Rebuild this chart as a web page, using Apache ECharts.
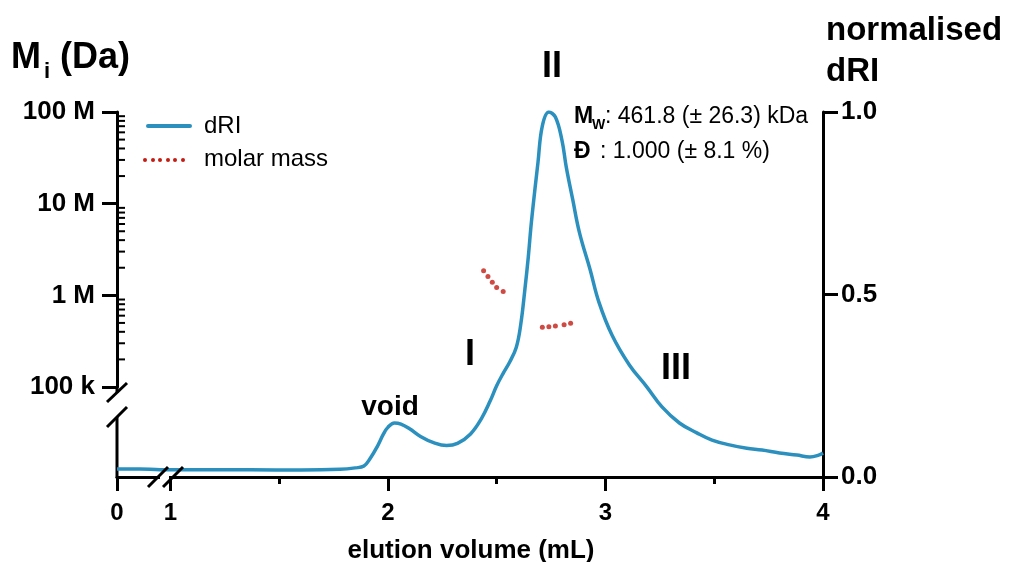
<!DOCTYPE html>
<html>
<head>
<meta charset="utf-8">
<script src="https://cdn.jsdelivr.net/npm/echarts@6/dist/echarts.min.js"></script>
<style>
  html, body { margin: 0; padding: 0; background: #fff; }
  #main { width: 1010px; height: 562px; }
</style>
</head>
<body>
<div id="main"></div>
<script>
// dRI trace (elution volume in mL, normalised dRI)
const volume = [0, 0.43, 0.81, 1.0, 1.14, 1.37, 1.6, 1.78, 1.85, 1.89, 1.92, 1.95, 1.98, 2.0, 2.03, 2.06, 2.1,
  2.15, 2.21, 2.27, 2.32, 2.38, 2.43, 2.47, 2.5, 2.53, 2.56, 2.59, 2.61, 2.63, 2.645, 2.66, 2.69, 2.71, 2.74, 2.77,
  2.8, 2.82, 2.85, 2.88, 2.93, 2.97, 3.03, 3.11, 3.19, 3.26, 3.34, 3.42, 3.49, 3.57, 3.65, 3.72, 3.8, 3.88,
  3.94, 3.98, 4.0];
const dri = [0.022, 0.022, 0.02, 0.02, 0.02, 0.02, 0.019, 0.021, 0.025, 0.03, 0.052, 0.082, 0.118, 0.136, 0.148,
  0.145, 0.132, 0.111, 0.094, 0.086, 0.092, 0.118, 0.16, 0.208, 0.25, 0.284, 0.315, 0.355, 0.415, 0.515, 0.6, 0.7,
  0.862, 0.962, 1.0, 0.986, 0.923, 0.849, 0.759, 0.671, 0.567, 0.479, 0.389, 0.307, 0.247, 0.192, 0.148, 0.121,
  0.101, 0.088, 0.079, 0.074, 0.066, 0.06, 0.055, 0.06, 0.066];

// molar mass points (Da)
const mmVolume = [2.44, 2.46, 2.48, 2.50, 2.53, 2.71, 2.74, 2.77, 2.81, 2.84];
const mmMass = [1.86e6, 1.60e6, 1.39e6, 1.22e6, 1.10e6, 4.48e5, 4.55e5, 4.63e5, 4.79e5, 4.96e5];

// axis ticks
const xTicks = [0, 1, 2, 3, 4];
const xMinorTicks = [1.5, 2.5, 3.5];
const driTicks = [0, 0.5, 1];
const massTicks = [1e5, 1e6, 1e7, 1e8];
const massLabels = ['100 k', '1 M', '10 M', '100 M'];
const massMinorTicks = [2e5, 3e5, 4e5, 5e5, 6e5, 7e5, 8e5, 9e5, 2e6, 3e6, 4e6, 5e6, 6e6, 7e6, 8e6, 9e6,
  2e7, 3e7, 4e7, 5e7, 6e7, 7e7, 8e7, 9e7];

// x axis break: 0..1 mL squeezed
const BREAK = 0.245;
const toAxis = v => (v <= 1 ? v * BREAK : BREAK + (v - 1));
const fromAxis = d => (d <= BREAK ? d / BREAK : d - BREAK + 1);
const X_MAX = toAxis(4);

const FONT = 'Liberation Sans, Arial, sans-serif';
const BLUE = '#2b90be';
const RED = '#c21d14';

const chart = echarts.init(document.getElementById('main'));

const axisLineStyle = { color: '#000', width: 3 };

const option = {
  animation: false,
  grid: [
    { left: 117, right: 187, top: 112, bottom: 85 },
    { left: 117, right: 187, top: 112, bottom: 175 }
  ],
  xAxis: [
    {
      type: 'value', gridIndex: 0, min: 0, max: X_MAX,
      axisLine: { onZero: false, lineStyle: axisLineStyle },
      axisTick: { show: true, length: 14, lineStyle: axisLineStyle, customValues: xTicks.map(toAxis) },
      axisLabel: {
        customValues: xTicks.map(toAxis),
        formatter: v => String(Math.round(fromAxis(v))),
        color: '#000', fontFamily: FONT, fontWeight: 'bold', fontSize: 24, margin: 24
      },
      splitLine: { show: false }
    },
    {
      type: 'value', gridIndex: 0, min: 0, max: X_MAX, position: 'bottom',
      axisLine: { show: false, onZero: false },
      axisTick: { show: true, length: 7, lineStyle: axisLineStyle, customValues: xMinorTicks.map(toAxis) },
      axisLabel: { show: false },
      splitLine: { show: false }
    },
    {
      type: 'value', gridIndex: 1, min: 0, max: X_MAX, show: false
    }
  ],
  yAxis: [
    {
      type: 'value', gridIndex: 0, position: 'right', min: 0, max: 1,
      axisLine: { show: true, onZero: false, lineStyle: axisLineStyle },
      axisTick: { show: true, length: 15, lineStyle: axisLineStyle, customValues: driTicks },
      axisLabel: {
        customValues: driTicks,
        formatter: v => v.toFixed(1),
        color: '#000', fontFamily: FONT, fontWeight: 'bold', fontSize: 26, margin: 18
      },
      splitLine: { show: false }
    },
    {
      type: 'log', logBase: 10, gridIndex: 1, position: 'left', min: 1e5, max: 1e8,
      axisLine: { show: true, onZero: false, lineStyle: axisLineStyle },
      axisTick: { show: true, length: 15, lineStyle: axisLineStyle, customValues: massTicks },
      axisLabel: {
        customValues: massTicks,
        formatter: v => {
          const i = massTicks.findIndex(t => Math.abs(Math.log10(t) - Math.log10(v)) < 1e-6);
          return i >= 0 ? massLabels[i] : '';
        },
        color: '#000', fontFamily: FONT, fontWeight: 'bold', fontSize: 26, margin: 22
      },
      splitLine: { show: false }
    }
  ],
  series: [
    {
      name: 'dRI', type: 'line', xAxisIndex: 0, yAxisIndex: 0,
      data: volume.map((v, i) => [toAxis(v), dri[i]]),
      smooth: 0.4, showSymbol: false,
      lineStyle: { color: BLUE, width: 3.5 },
      z: 3
    },
    {
      name: 'molar mass', type: 'scatter', xAxisIndex: 2, yAxisIndex: 1,
      data: mmVolume.map((v, i) => [toAxis(v), mmMass[i]]),
      symbolSize: 5,
      itemStyle: { color: RED },
      z: 4
    },
    {
      // log minor ticks on the left axis (inside)
      type: 'custom', xAxisIndex: 2, yAxisIndex: 1, clip: false, silent: true,
      data: massMinorTicks.map(m => [0, m]),
      renderItem: (params, api) => {
        const p = api.coord([0, api.value(1)]);
        return {
          type: 'line',
          shape: { x1: p[0], y1: p[1], x2: p[0] + 8, y2: p[1] },
          style: { stroke: '#000', lineWidth: 2 }
        };
      }
    }
  ],
  graphic: [
    // left axis break
    { type: 'line', shape: { x1: 117, y1: 386, x2: 117, y2: 393 }, style: { stroke: '#000', lineWidth: 3 } },
    { type: 'line', shape: { x1: 117, y1: 417, x2: 117, y2: 478 }, style: { stroke: '#000', lineWidth: 3 } },
    { type: 'line', shape: { x1: 107, y1: 402, x2: 127, y2: 383 }, style: { stroke: '#000', lineWidth: 3 } },
    { type: 'line', shape: { x1: 107, y1: 427, x2: 127, y2: 407 }, style: { stroke: '#000', lineWidth: 3 } },
    // x axis break
    { type: 'rect', shape: { x: 160, y: 474, width: 9, height: 6 }, style: { fill: '#fff' }, z: 100 },
    { type: 'line', shape: { x1: 148, y1: 487, x2: 168, y2: 467 }, style: { stroke: '#000', lineWidth: 3 }, z: 101 },
    { type: 'line', shape: { x1: 163, y1: 487, x2: 183, y2: 467 }, style: { stroke: '#000', lineWidth: 3 }, z: 101 },
    // legend
    { type: 'line', shape: { x1: 148, y1: 126, x2: 190, y2: 126 }, style: { stroke: BLUE, lineWidth: 4, lineCap: 'round' } },
    { type: 'text', x: 204, y: 126, style: { text: 'dRI', font: '24px ' + FONT, fill: '#000', verticalAlign: 'middle' } },
    { type: 'group', children: [145, 153, 160, 168, 175, 183].map(cx => ({
      type: 'circle', shape: { cx: cx, cy: 160, r: 2 }, style: { fill: RED } })) },
    { type: 'text', x: 204, y: 159, style: { text: 'molar mass', font: '24px ' + FONT, fill: '#000', verticalAlign: 'middle' } },
    // axis titles
    { type: 'text', x: 11, y: 58, style: { text: 'M', font: 'bold 36px ' + FONT, fill: '#000', verticalAlign: 'middle' } },
    { type: 'text', x: 44, y: 72, style: { text: 'i', font: 'bold 22px ' + FONT, fill: '#000', verticalAlign: 'middle' } },
    { type: 'text', x: 60, y: 58, style: { text: '(Da)', font: 'bold 36px ' + FONT, fill: '#000', verticalAlign: 'middle' } },
    { type: 'text', x: 826, y: 31, style: { text: 'normalised', font: 'bold 33px ' + FONT, fill: '#000', verticalAlign: 'middle' } },
    { type: 'text', x: 826, y: 72, style: { text: 'dRI', font: 'bold 33px ' + FONT, fill: '#000', verticalAlign: 'middle' } },
    { type: 'text', x: 471, y: 551, style: { text: 'elution volume (mL)', font: 'bold 26px ' + FONT, fill: '#000', align: 'center', verticalAlign: 'middle' } },
    // peak labels
    { type: 'text', x: 552, y: 67, style: { text: 'II', font: 'bold 36px ' + FONT, fill: '#000', align: 'center', verticalAlign: 'middle' } },
    { type: 'text', x: 470, y: 355, style: { text: 'I', font: 'bold 36px ' + FONT, fill: '#000', align: 'center', verticalAlign: 'middle' } },
    { type: 'text', x: 676, y: 369, style: { text: 'III', font: 'bold 36px ' + FONT, fill: '#000', align: 'center', verticalAlign: 'middle' } },
    { type: 'text', x: 390, y: 407, style: { text: 'void', font: 'bold 28px ' + FONT, fill: '#000', align: 'center', verticalAlign: 'middle' } },
    // Mw / dispersity
    { type: 'text', x: 574, y: 117, style: { text: 'M', font: 'bold 23px ' + FONT, fill: '#000', verticalAlign: 'middle' } },
    { type: 'text', x: 592, y: 125, style: { text: 'W', font: 'bold 14px ' + FONT, fill: '#000', verticalAlign: 'middle' } },
    { type: 'text', x: 605, y: 117, style: { text: ': 461.8 (± 26.3) kDa', font: '23px ' + FONT, fill: '#000', verticalAlign: 'middle' } },
    { type: 'text', x: 574, y: 152, style: { text: 'Đ', font: 'bold 23px ' + FONT, fill: '#000', verticalAlign: 'middle' } },
    { type: 'text', x: 600, y: 152, style: { text: ': 1.000 (± 8.1 %)', font: '23px ' + FONT, fill: '#000', verticalAlign: 'middle' } }
  ]
};

chart.setOption(option);
</script>
</body>
</html>
